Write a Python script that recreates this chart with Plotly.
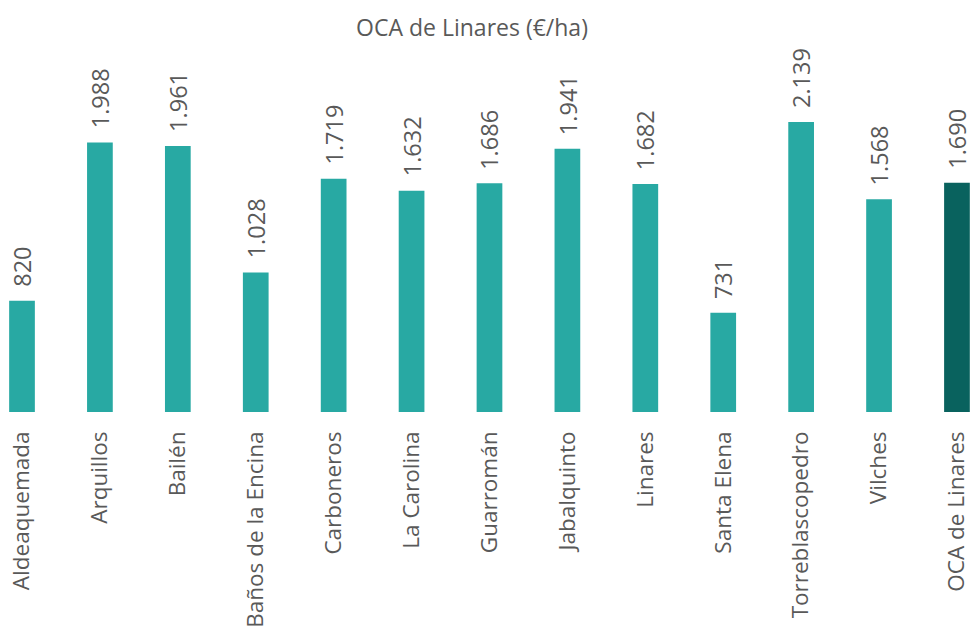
import plotly.graph_objects as go

categories = ["Aldeaquemada", "Arquillos", "Bailén", "Baños de la Encina", "Carboneros",
              "La Carolina", "Guarromán", "Jabalquinto", "Linares", "Santa Elena",
              "Torreblascopedro", "Vilches", "OCA de Linares"]
values = [820, 1988, 1961, 1028, 1719, 1632, 1686, 1941, 1682, 731, 2139, 1568, 1690]
title_text = "OCA de Linares (€/ha)"

def fmt(v):
    return f"{v:,}".replace(",", ".")

colors = ["#28A9A3"] * (len(values) - 1) + ["#09625E"]

fig = go.Figure()
fig.add_trace(go.Bar(x=categories, y=values, marker=dict(color=colors, line=dict(width=0)),
                     width=0.33, hoverinfo="skip"))

for c, v in zip(categories, values):
    fig.add_annotation(x=c, y=v, text=fmt(v), textangle=-90, showarrow=False,
                       yanchor="bottom", xanchor="center", yshift=12,
                       font=dict(size=23.5, color="#595959", family="Open Sans"))

fig.update_layout(
    width=972, height=632,
    margin=dict(l=0, r=0, t=40, b=220),
    paper_bgcolor="white", plot_bgcolor="white",
    title=dict(text=title_text, x=0.4856, xanchor="center", y=0.955, yanchor="middle",
               font=dict(size=23, color="#595959", family="Open Sans")),
    showlegend=False,
    xaxis=dict(range=[-0.2824, 12.193], tickangle=-90, showgrid=False, zeroline=False,
               showline=False, ticks="", ticklabelstandoff=14, automargin=False,
               tickfont=dict(size=22.5, color="#595959", family="Open Sans")),
    yaxis=dict(range=[0, 2743], visible=False),
)

fig.write_html("out.html", config={"displayModeBar": False},
               post_script="document.body.style.margin='0px';")
